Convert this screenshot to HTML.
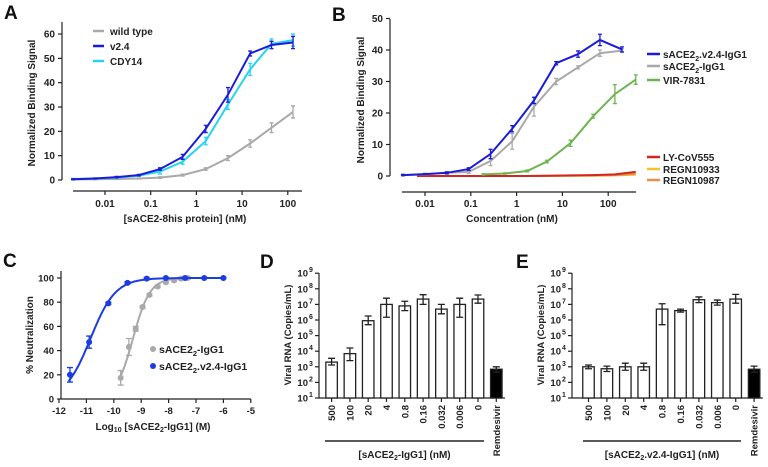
<!DOCTYPE html>
<html><head><meta charset="utf-8">
<style>
html,body{margin:0;padding:0;background:#fff;}
svg{display:block;font-family:"Liberation Sans",Arial,sans-serif;font-weight:bold;}
</style></head>
<body>
<svg id="fig" width="768" height="467" viewBox="0 0 768 467">
<g id="panelA"></g>
<g id="panelB"></g>
<g id="panelC"></g>
<g id="panelD"></g>
<g id="panelE"></g>
</svg>
<script>
// ---------- Panel A data ----------
const concA = [0.002,0.006,0.018,0.055,0.16,0.5,1.6,4.9,15,44,130];
const wtA   = [0.2,0.3,0.4,0.6,1,2,4.5,9,15,21.5,28];
const v24A  = [0.3,0.6,1.2,2,4.5,9.5,21,35,52,55.5,56.5];
const cdyA  = [0.4,0.6,1,1.8,3.5,7.5,16,31,45.5,56,57.5];
const wtErrA  = [0.2,0.2,0.2,0.2,0.3,0.4,0.5,1,1.5,2,2.5];
const v24ErrA = [0.2,0.2,0.3,0.3,0.5,1,1.5,3,1,1.5,2.5];
const cdyErrA = [0.2,0.2,0.3,0.3,1,1,1.5,2,2.5,2,2.5];
const yTicksA = [0,10,20,30,40,50,60];
const xTicksA = [0.01,0.1,1,10,100];
const xTickLabelsA = ["0.01","0.1","1","10","100"];
// ---------- Panel B data ----------
const concB   = [0.0033,0.01,0.03,0.09,0.27,0.8,2.4,7.3,22,66,200];
const v24B    = [0.3,0.6,1,2.2,7,15,24,35.8,38.7,43.2,40.2];
const v24ErrB = [0.2,0.2,0.3,0.4,1.5,1,1,0.5,1,1.8,0.8];
const wtB     = [0.3,0.5,1,1.3,4.8,11,22,30,34.5,39,39.8];
const wtErrB  = [0.2,0.2,0.4,0.4,1.5,2.5,3,1,0.5,1,0.6];
const concGreen = [0.19,0.56,1.7,4.6,15,47,140,400];
const greenB    = [0.5,0.8,1.6,4.6,10.4,19,26,30.6];
const greenErrB = [0.2,0.2,0.3,0.4,1,0.6,3,1.5];
const concLow = [0.0067,0.02,0.06,0.19,0.56,1.7,5,15,46,140,400];
const redB    = [0,0,0,0,0,0,0.1,0.2,0.3,0.5,1.3];
const yellowB = [0,0,0,0,0,0,0,0.1,0.1,0.2,0.4];
const orangeB = [0,0,0,0,0,0,0.1,0.1,0.2,0.3,0.7];
const yTicksB = [0,10,20,30,40,50];
const xTicksB = [0.01,0.1,1,10,100];
const xTickLabelsB = ["0.01","0.1","1","10","100"];
// ---------- Panel C data ----------
const logWt   = [-9.75,-9.45,-9.2,-8.95,-8.7,-8.4,-8.1,-7.8,-7.55,-7.3];
const neutWt  = [17.5,43,58,76,86,93,96.5,98,99.5,100];
const neutWtErr = [6,7,2,1,1,1,1,1,1,1];
const logV24  = [-11.6,-10.9,-10.2,-9.5,-8.8,-8.1,-7.4,-6.7,-6.0];
const neutV24 = [20,47,79,96,99.5,100,100,100,100];
const neutV24Err = [6,5,1,1,1,0.5,0.5,0.5,0.5];
const fitEC50 = [-9.3,-10.85];
const fitHill = [1.4,0.95];
const yTicksC = [0,20,40,60,80,100];
const xTicksC = [-12,-11,-10,-9,-8,-7,-6,-5];
// ---------- Panel D/E data ----------
const doseLabels = ["500","100","20","4","0.8","0.16","0.032","0.006","0","Remdesivir"];
const rnaD    = [2e3,7e3,9e5,1e7,8e6,2.2e7,5e6,1e7,2.2e7,7e2];
const rnaDLo  = [1.3e3,2.5e3,5e5,1.5e6,4e6,1e7,2.5e6,1.5e6,1.2e7,4.5e2];
const rnaDHi  = [3.5e3,1.6e4,1.8e6,2.5e7,1.6e7,4.2e7,1e7,2.5e7,4e7,1e3];
const rnaE    = [1e3,7.5e2,1e3,1e3,5e6,4e6,2e7,1.3e7,2.2e7,7e2];
const rnaELo  = [7.5e2,5e2,6e2,6e2,5e5,3.2e6,1.3e7,9e6,1.2e7,4.5e2];
const rnaEHi  = [1.3e3,1.1e3,1.7e3,1.7e3,1.1e7,5e6,3e7,1.9e7,4.4e7,1.1e3];
const logTicks = [1,2,3,4,5,6,7,8,9];

const NS="http://www.w3.org/2000/svg";
function mk(parent,tag,attrs,text){
  const e=document.createElementNS(NS,tag);
  for(const k in attrs) e.setAttribute(k,attrs[k]);
  if(text!==undefined) e.textContent=text;
  parent.appendChild(e); return e;
}
const L10=Math.log10;
const TXT="#222";

// ===== generic helpers =====
function linePath(xs,ys,fx,fy){return xs.map((v,i)=>(i?'L':'M')+fx(v).toFixed(1)+' '+fy(ys[i]).toFixed(1)).join(' ');}

// ================= PANEL A =================
(function(){
  const g=document.getElementById('panelA');
  const x=v=>105+(L10(v)+2)*45.7, y=v=>180-v*2.433;
  let t=mk(g,'text',{x:4,y:19,'font-size':19,fill:'#111'},'A');
  
  
  let ax=mk(g,'line',{x1:62,y1:22,x2:62,y2:180,stroke:'#222','stroke-width':1.2});
  
  
  yTicksA.forEach(v=>{
    const tk=mk(g,'line',{x1:58,x2:62,y1:y(v),y2:y(v),stroke:'#222','stroke-width':1.2});
    
    
    const lb=mk(g,'text',{x:55,y:y(v)+3.5,'font-size':10,'text-anchor':'end',fill:TXT},String(v));
    
    
  });
  let xa=mk(g,'line',{x1:73,y1:191,x2:302,y2:191,stroke:'#222','stroke-width':1.2});
  
  
  xTicksA.forEach((v,i)=>{
    const tk=mk(g,'line',{x1:x(v),x2:x(v),y1:191,y2:195,stroke:'#222','stroke-width':1.2});
    
    
    const lb=mk(g,'text',{x:x(v),y:207,'font-size':10,'text-anchor':'middle',fill:TXT},xTickLabelsA[i]);
    
    
  });
  let xt=mk(g,'text',{x:185,y:222,'font-size':10,'text-anchor':'middle',fill:TXT},'[sACE2-8his protein] (nM)');
  
  
  let yt=mk(g,'text',{x:0,y:0,'font-size':10,'text-anchor':'middle',fill:TXT,transform:'translate(35,103) rotate(-90)'},'Normalized Binding Signal');
  
  
  const series=[[wtA,wtErrA,'#a9a9a9','wild-type'],[cdyA,cdyErrA,'#27d3f2','cdy14'],[v24A,v24ErrA,'#1c1cd8','v2-4']];
  series.forEach(s=>{
    const p=mk(g,'path',{d:linePath(concA,s[0],x,y),fill:'none',stroke:s[2],'stroke-width':2});
    
    
    concA.forEach((c,i)=>{
      const e=mk(g,'path',{d:`M${x(c)} ${y(s[0][i]-s[1][i])}V${y(s[0][i]+s[1][i])}M${x(c)-2} ${y(s[0][i]-s[1][i])}h4M${x(c)-2} ${y(s[0][i]+s[1][i])}h4`,stroke:s[2],'stroke-width':1.3,fill:'none'});
      
      
    });
  });
  const leg=[['wild type','#a9a9a9',31],['v2.4','#1c1cd8',46],['CDY14','#27d3f2',61]];
  leg.forEach(l=>{
    const ln=mk(g,'line',{x1:93,x2:104,y1:l[2],y2:l[2],stroke:l[1],'stroke-width':2.5});
    
    
    const tx=mk(g,'text',{x:110,y:l[2]+4,'font-size':10,fill:TXT},l[0]);
    
    
  });
})();

// ================= PANEL B =================
(function(){
  const g=document.getElementById('panelB');
  const x=v=>425+(L10(v)+2)*45.8, y=v=>176-v*3.15;
  let t=mk(g,'text',{x:332,y:21,'font-size':19,fill:'#111'},'B');
  
  
  let ax=mk(g,'line',{x1:390,y1:19,x2:390,y2:176,stroke:'#222','stroke-width':1.2});
  
  
  yTicksB.forEach(v=>{
    const tk=mk(g,'line',{x1:386,x2:390,y1:y(v),y2:y(v),stroke:'#222','stroke-width':1.2});
    
    
    const lb=mk(g,'text',{x:383,y:y(v)+3.5,'font-size':10,'text-anchor':'end',fill:TXT},String(v));
    
    
  });
  let xa=mk(g,'line',{x1:402,y1:192,x2:636,y2:192,stroke:'#222','stroke-width':1.2});
  
  
  xTicksB.forEach((v,i)=>{
    const tk=mk(g,'line',{x1:x(v),x2:x(v),y1:192,y2:196,stroke:'#222','stroke-width':1.2});
    
    
    const lb=mk(g,'text',{x:x(v),y:207,'font-size':10,'text-anchor':'middle',fill:TXT},xTickLabelsB[i]);
    
    
  });
  let xt=mk(g,'text',{x:512,y:222,'font-size':10,'text-anchor':'middle',fill:TXT},'Concentration (nM)');
  
  
  let yt=mk(g,'text',{x:0,y:0,'font-size':10,'text-anchor':'middle',fill:TXT,transform:'translate(364,100) rotate(-90)'},'Normalized Binding Signal');
  
  
  const series=[
    [concLow,yellowB,null,'#f1c232','regn10933'],
    [concLow,orangeB,null,'#e69050','regn10987'],
    [concLow,redB,null,'#d3261e','ly-cov555'],
    [concGreen,greenB,greenErrB,'#6db450','vir-7831'],
    [concB,wtB,wtErrB,'#a9a9a9','sace2-igg1'],
    [concB,v24B,v24ErrB,'#1c1cd8','sace2-v2-4-igg1']];
  series.forEach(s=>{
    const p=mk(g,'path',{d:linePath(s[0],s[1],x,y),fill:'none',stroke:s[3],'stroke-width':2});
    
    
    if(s[2]) s[0].forEach((c,i)=>{
      const lo=y(s[1][i]-s[2][i]), hi=y(s[1][i]+s[2][i]), xx=x(c);
      const e=mk(g,'path',{d:`M${xx} ${lo}V${hi}M${xx-2} ${lo}h4M${xx-2} ${hi}h4`,stroke:s[3],'stroke-width':1.3,fill:'none'});
      
      
    });
  });
  const leg=[['sACE2','.v2.4-IgG1','#1c1cd8',54],['sACE2','-IgG1','#a9a9a9',66],['VIR-7831','','#6db450',80],
             ['LY-CoV555','','#d3261e',157],['REGN10933','','#f1c232',169],['REGN10987','','#e69050',180]];
  leg.forEach(l=>{
    const ln=mk(g,'line',{x1:647,x2:660,y1:l[3],y2:l[3],stroke:l[2],'stroke-width':2.5});
    
    
    const tx=mk(g,'text',{x:663,y:l[3]+4,'font-size':10,fill:TXT});
    
    
    if(l[1]){
      mk(tx,'tspan',{},l[0]);
      mk(tx,'tspan',{'font-size':7,dy:3},'2');
      mk(tx,'tspan',{dy:-3},l[1]);
    } else tx.textContent=l[0];
  });
})();

// ================= PANEL C =================
(function(){
  const g=document.getElementById('panelC');
  const x=v=>59+(v+12)*27.4, y=v=>399-v*1.21;
  let t=mk(g,'text',{x:3,y:267,'font-size':19,fill:'#111'},'C');
  
  
  let ax=mk(g,'line',{x1:61,y1:271,x2:61,y2:399,stroke:'#222','stroke-width':1.2});
  
  
  let xa=mk(g,'line',{x1:61,y1:399,x2:x(-5),y2:399,stroke:'#222','stroke-width':1.2});
  
  
  yTicksC.forEach(v=>{
    const tk=mk(g,'line',{x1:57,x2:61,y1:y(v),y2:y(v),stroke:'#222','stroke-width':1.2});
    
    
    const lb=mk(g,'text',{x:54,y:y(v)+3.5,'font-size':9.5,'text-anchor':'end',fill:TXT},String(v));
    
    
  });
  xTicksC.forEach(v=>{
    const tk=mk(g,'line',{x1:x(v),x2:x(v),y1:399,y2:403,stroke:'#222','stroke-width':1.2});
    
    
    const lb=mk(g,'text',{x:x(v),y:414,'font-size':9.5,'text-anchor':'middle',fill:TXT},String(v));
    
    
  });
  let xt=mk(g,'text',{x:153,y:430,'font-size':10,'text-anchor':'middle',fill:TXT});
  
  
  mk(xt,'tspan',{},'Log');mk(xt,'tspan',{'font-size':7,dy:2},'10');mk(xt,'tspan',{dy:-2},' [sACE2');
  mk(xt,'tspan',{'font-size':7,dy:2},'2');mk(xt,'tspan',{dy:-2},'-IgG1] (M)');
  let yt=mk(g,'text',{x:0,y:0,'font-size':10,'text-anchor':'middle',fill:TXT,transform:'translate(33,335) rotate(-90)'},'% Neutralization');
  
  
  const ser=[[logWt,neutWt,neutWtErr,'#a9a9a9','sace2-igg1',0],[logV24,neutV24,neutV24Err,'#1c3be0','sace2-v2-4-igg1',1]];
  ser.forEach(s=>{
    const ec=fitEC50[s[5]],h=fitHill[s[5]];
    let d='';
    for(let v=s[0][0]-0.05;v<=s[0][s[0].length-1]+0.001;v+=0.05){
      const r=100/(1+Math.pow(10,(ec-v)*h));
      d+=(d?'L':'M')+x(v).toFixed(1)+' '+y(r).toFixed(1);
    }
    const p=mk(g,'path',{d:d,fill:'none',stroke:s[3],'stroke-width':2});
    
    
    s[0].forEach((c,i)=>{
      const lo=y(s[1][i]-s[2][i]),hi=y(s[1][i]+s[2][i]),xx=x(c);
      const e=mk(g,'path',{d:`M${xx} ${lo}V${hi}M${xx-3} ${lo}h6M${xx-3} ${hi}h6`,stroke:s[3],'stroke-width':1.3,fill:'none'});
      
      
      const pt=mk(g,'circle',{cx:xx,cy:y(s[1][i]),r:3,fill:s[3]});
      
      
    });
  });
  const leg=[['-IgG1','#a9a9a9',349],['.v2.4-IgG1','#1c3be0',366]];
  leg.forEach(l=>{
    const c=mk(g,'circle',{cx:153,cy:l[2],r:3,fill:l[1]});
    
    
    const tx=mk(g,'text',{x:159,y:l[2]+4,'font-size':10.5,fill:TXT});
    
    
    mk(tx,'tspan',{},'sACE2');mk(tx,'tspan',{'font-size':7.5,dy:3},'2');mk(tx,'tspan',{dy:-3},l[0]);
  });
})();

// ================= PANELS D & E =================
function barPanel(gid,pfx,letterX,axisX,bar0,step,vals,lo,hi,ulX1,ulX2,titleParts,yTitleX){
  const g=document.getElementById(gid);
  const y=v=>398-(L10(v)-1)*15.6, x=i=>bar0+i*step, bw=11.5;
  let t=mk(g,'text',{x:letterX,y:268,'font-size':19,fill:'#111'},pfx.toUpperCase());
  
  
  let ax=mk(g,'line',{x1:axisX,y1:273,x2:axisX,y2:398,stroke:'#222','stroke-width':1.2});
  
  
  let xa=mk(g,'line',{x1:axisX,y1:398,x2:x(9)+bw/2+3,y2:398,stroke:'#222','stroke-width':1.2});
  
  
  logTicks.forEach(p=>{
    const yy=y(Math.pow(10,p));
    const tk=mk(g,'line',{x1:axisX-4,x2:axisX,y1:yy,y2:yy,stroke:'#222','stroke-width':1.2});
    
    
    const lb=mk(g,'text',{x:axisX-11,y:yy+3.5,'font-size':9.5,'text-anchor':'end',fill:TXT},'10');
    
    
    const sp=mk(g,'text',{x:axisX-10,y:yy-1,'font-size':7,fill:TXT},String(p));
    
    
  });
  vals.forEach((v,i)=>{
    const rem=i===9;
    const r=mk(g,'rect',{x:x(i)-bw/2,y:y(v),width:bw,height:398-y(v),fill:rem?'#000':'#fff',stroke:'#222','stroke-width':1.3});
    
    
    const l=y(lo[i]),h=y(hi[i]);
    const e=mk(g,'path',{d:`M${x(i)} ${l}V${h}M${x(i)-3.5} ${l}h7M${x(i)-3.5} ${h}h7`,stroke:'#222','stroke-width':1.3,fill:'none'});
    
    
    const tk=mk(g,'line',{x1:x(i),x2:x(i),y1:398,y2:402,stroke:'#222','stroke-width':1.2});
    
    
    const lb=mk(g,'text',{x:0,y:0,'font-size':9.5,'text-anchor':'end',fill:TXT,transform:`translate(${x(i)+3.5},405) rotate(-90)`},doseLabels[i]);
    
    
  });
  let ul=mk(g,'line',{x1:ulX1,x2:ulX2,y1:441,y2:441,stroke:'#222','stroke-width':1.4});
  
  
  let tt=mk(g,'text',{x:(ulX1+ulX2)/2,y:458,'font-size':10,'text-anchor':'middle',fill:TXT});
  
  
  mk(tt,'tspan',{},titleParts[0]);mk(tt,'tspan',{'font-size':7,dy:2},'2');mk(tt,'tspan',{dy:-2},titleParts[1]);
  let yt=mk(g,'text',{x:0,y:0,'font-size':9.5,'text-anchor':'middle',fill:TXT,transform:`translate(${yTitleX},335) rotate(-90)`},'Viral RNA (Copies/mL)');
  
  
}
barPanel('panelD','d',260,319,331.6,18.3,rnaD,rnaDLo,rnaDHi,325,484,['[sACE2','-IgG1] (nM)'],291);
barPanel('panelE','e',516,572,588.5,18.4,rnaE,rnaELo,rnaEHi,583,741,['[sACE2','.v2.4-IgG1] (nM)'],544);
</script>
</body></html>
